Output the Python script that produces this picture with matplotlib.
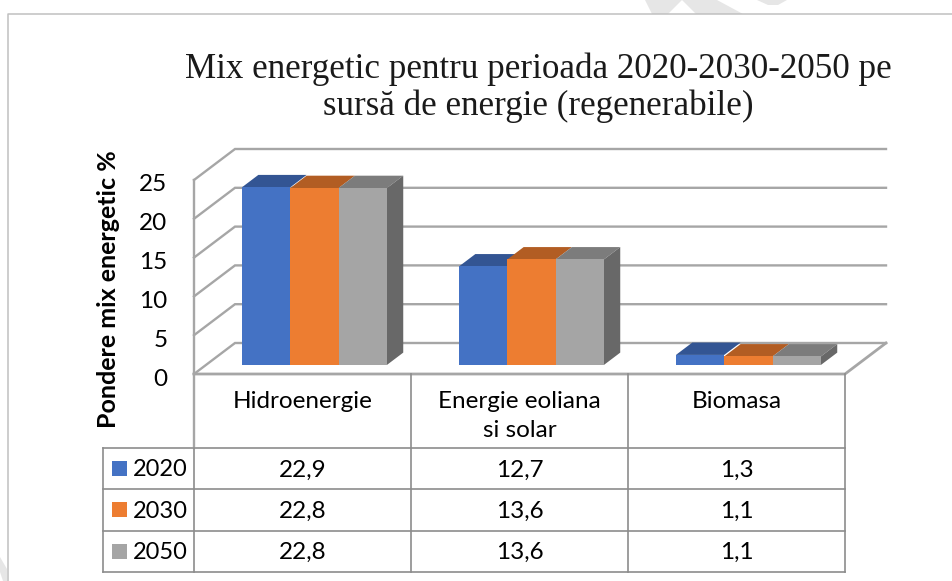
import matplotlib
matplotlib.use("Agg")
import matplotlib.pyplot as plt
from matplotlib.patches import Polygon
from matplotlib.transforms import ScaledTranslation

categories = ["Hidroenergie", "Energie eoliana\nsi solar", "Biomasa"]
years = ["2020", "2030", "2050"]
v2020 = [22.9, 12.7, 1.3]
v2030 = [22.8, 13.6, 1.1]
v2050 = [22.8, 13.6, 1.1]
labels2020 = ["22,9", "12,7", "1,3"]
labels2030 = ["22,8", "13,6", "1,1"]
labels2050 = ["22,8", "13,6", "1,1"]
yticks = [0, 5, 10, 15, 20, 25]
title = "Mix energetic pentru perioada 2020-2030-2050 pe\nsursă de energie (regenerabile)"
ylabel = "Pondere mix energetic %"

W, H = 953, 581
BODY = "Lato"
fig = plt.figure(figsize=(W / 100, H / 100), dpi=100)
L, R, T, B = 194, 845, 180, 374
ax = fig.add_axes([L / W, 1 - B / H, (R - L) / W, (B - T) / H])
ax.set_xlim(-0.5, 2.5)
ax.set_ylim(0, 25)
ax.patch.set_alpha(0)
for s in ax.spines.values():
    s.set_visible(False)

DX = 41 / 217
DY = 31 / 7.76


def pj(x, y, d):
    return (x + d * DX, y + d * DY)


GRID = "#a6a6a6"
for v in yticks:
    a, b, c = pj(-0.5, v, 0), pj(-0.5, v, 1), pj(2.5, v, 1)
    ax.plot([a[0], b[0], c[0]], [a[1], b[1], c[1]], color=GRID, lw=1.7, clip_on=False,
            solid_joinstyle="miter", zorder=1)
p0, p1 = pj(2.5, 0, 0), pj(2.5, 0, 1)
ax.plot([-0.5, 2.5, p1[0]], [0, 0, p1[1]], color=GRID, lw=2.0, clip_on=False, zorder=1)
ax.plot([-0.5, -0.5], [0, 25], color=GRID, lw=1.7, clip_on=False, zorder=1)

colors = ["#4472c4", "#ed7d31", "#a5a5a5"]
tops = ["#335593", "#b25d23", "#7c7c7c"]
SIDE = "#686868"
BW = 48.3 / 217
D0, D1 = 0.29, 0.69
series = [v2020, v2030, v2050]
for i in range(len(categories)):
    for j, vals in enumerate(series):
        v = vals[i]
        x0 = i + (j - 1.5) * BW
        x1 = x0 + BW
        front = [pj(x0, 0, D0), pj(x1, 0, D0), pj(x1, v, D0), pj(x0, v, D0)]
        top = [pj(x0, v, D0), pj(x1, v, D0), pj(x1, v, D1), pj(x0, v, D1)]
        ax.add_patch(Polygon(top, fc=tops[j], ec="none", zorder=3, clip_on=False))
        ax.add_patch(Polygon(front, fc=colors[j], ec="none", zorder=4, clip_on=False))
        if j == 2:
            side = [pj(x1, 0, D0), pj(x1, 0, D1), pj(x1, v, D1), pj(x1, v, D0)]
            ax.add_patch(Polygon(side, fc=SIDE, ec="none", zorder=3, clip_on=False))

ax.set_xticks([])
ax.set_yticks(yticks)
ax.tick_params(axis="y", length=0, pad=19, labelsize=17.5)
shift = ScaledTranslation(0, -3 / 100, fig.dpi_scale_trans)
for t in ax.get_yticklabels():
    t.set_fontfamily(BODY)
    t.set_transform(t.get_transform() + shift)
ax.set_ylabel(ylabel, fontfamily=BODY, fontweight="bold", fontsize=18, labelpad=0)
ax.yaxis.set_label_coords((120 - L) / (R - L), (B - 289) / (B - T))


# Data table, placed in axes data units
def py(p):
    return (B - p) / 7.76


def px(p):
    return (p - L) / 217 - 0.5


LC = "#8c8c8c"
rows = [448, 489, 530.5, 572]
kw = dict(color=LC, lw=1.2, clip_on=False, zorder=2)
for r in rows:
    ax.plot([px(103), px(845)], [py(r), py(r)], **kw)
for c in [411, 628, 845]:
    ax.plot([px(c), px(c)], [py(B), py(572)], **kw)
ax.plot([px(194), px(194)], [py(B), py(448)], color=GRID, lw=1.7, clip_on=False, zorder=2)
ax.plot([px(194), px(194)], [py(448), py(572)], **kw)
ax.plot([px(103), px(103)], [py(448), py(572)], **kw)

for i, c in enumerate(categories):
    ax.text(i, py(391), c, ha="center", va="top", fontfamily=BODY, fontsize=17.5,
            linespacing=1.45, clip_on=False, color="black")

table = [labels2020, labels2030, labels2050]
for r, (yr, row) in enumerate(zip(years, table)):
    yc = (rows[r] + rows[r + 1]) / 2
    s = 15
    ax.add_patch(Polygon([(px(112), py(yc - s / 2)), (px(112 + s), py(yc - s / 2)),
                          (px(112 + s), py(yc + s / 2)), (px(112), py(yc + s / 2))],
                         fc=colors[r], ec="none", clip_on=False))
    ax.text(px(160), py(yc - 0.5), yr, ha="center", va="center_baseline", fontfamily=BODY, fontsize=17, clip_on=False)
    for i, t in enumerate(row):
        ax.text(i, py(yc - 0.5), t, ha="center", va="center_baseline", fontfamily=BODY, fontsize=17.5, clip_on=False)

fig.text(538 / W, 1 - 88 / H, title, ha="center", va="center", fontfamily="Liberation Serif",
         fontsize=25.2, linespacing=1.14, color="#1a1a1a")

# Page frame and watermark fragments
fig.add_artist(plt.Line2D([8 / W, 8 / W, 1], [0, 1 - 14 / H, 1 - 14 / H], color="#c0c0c0", lw=1.1,
                          transform=fig.transFigure))
wm = "#e6e6e6"
for poly in ([(645, 0), (682, 0), (668, 14), (652, 14)],
             [(682, 0), (717, 0), (743, 14), (696, 14)],
             [(757, 0), (787, 0), (778, 5), (768, 5)],
             [(0, 557), (7, 569), (7, 581), (3, 581), (0, 572)]):
    fig.add_artist(Polygon([(x / W, 1 - y / H) for x, y in poly], fc=wm, ec="none",
                           transform=fig.transFigure))

fig.savefig("out.png", dpi=100)
